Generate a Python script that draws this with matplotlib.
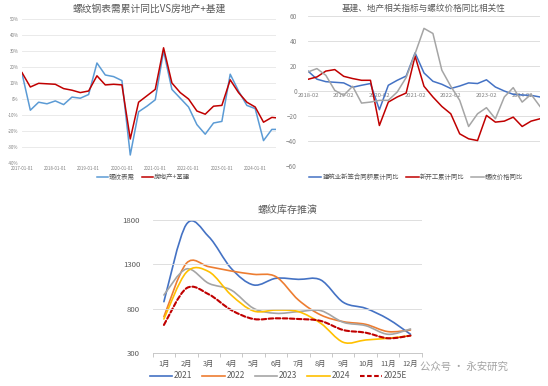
import matplotlib
matplotlib.use('Agg')
import matplotlib.pyplot as plt
from matplotlib.path import Path
from matplotlib.patches import PathPatch
from matplotlib.lines import Line2D
import numpy as np

plt.rcParams['font.family'] = ['Noto Sans CJK SC', 'DejaVu Sans']

# ---------------- Chart 1 data (quarterly) ----------------
c1_title = '螺纹钢表需累计同比VS房地产+基建'
c1_ticklabels = ['2017-01-01', '2018-01-01', '2019-01-01', '2020-01-01',
                 '2021-01-01', '2022-01-01', '2023-01-01', '2024-01-01']
c1_rebar = [16, -7, -2, -3, -1.2, -3.5, 1.2, 0.5, 2.8, 22.5, 15, 14, 11.5, -35,
            -8, -4.5, -0.5, 30, 6, 0.5, -5, -16, -22, -15, -14, 15.5, 5, -4,
            -6, -26, -19, -19]
c1_prop = [16.5, 7.5, 9.8, 9.5, 9.2, 6.5, 5.5, 4, 5, 14.5, 8.8, 9.2, 8.8, -25,
           -2, 2, 6, 32, 10, 4, 0, -7.5, -9.5, -4.5, -4, 12, 4, -2,
           -5, -14.5, -11.5, -12]
c1_names = ['螺纹表需', '房地产+基建']

# ---------------- Chart 2 data (quarterly from 2018-02) ----------------
c2_title = '基建、地产相关指标与螺纹价格同比相关性'
c2_ticklabels = ['2018-02', '2019-02', '2020-02', '2021-02', '2022-02', '2023-02', '2024-02']
c2_contract = [16, 9.5, 7.5, 7, 6.5, 3, 4.6, 6, -15, 4.6, 8.6, 12, 30.6, 14.5,
               7.8, 5.4, 2, 4, 6.5, 6, 9, 3.2, 0, -2.7, -3.2, -3.5, -4.8]
c2_newstart = [9.4, 11.3, 16, 17.2, 11.8, 10, 8.6, 8.6, -27.7, -8.9, -4.8, -1.6,
               28, 3.8, -4.8, -12.4, -18.3, -34.4, -38.4, -39.8, -19.6, -25,
               -24.2, -21, -28.5, -24.2, -22.3]
c2_price = [15.3, 18, 12.6, 0.5, -3.5, 3.8, -9.7, -8.9, -7.5, -7.5, -0.8, 10.8,
            30, 50.3, 46.2, 16.7, 3.8, -7.5, -28.5, -18.3, -13.4, -22.3, -4.8,
            2.7, -8.9, -2.7, -12.4]
c2_names = ['建筑业新签合同额累计同比', '新开工累计同比', '螺纹价格同比']

# ---------------- Chart 3 data ----------------
c3_title = '螺纹库存推演'
c3_months = ['1月', '2月', '3月', '4月', '5月', '6月', '7月', '8月', '9月', '10月', '11月', '12月']
inv_2021 = [881, 1750, 1612, 1256, 1069, 1144, 1132, 1125, 874, 806, 686, 514]
inv_2022 = [712, 1312, 1275, 1226, 1189, 1162, 900, 731, 656, 626, 544, 562]
inv_2023 = [956, 1249, 1087, 1012, 806, 750, 769, 780, 649, 611, 514, 574]
inv_2024 = [686, 1211, 1219, 956, 776, 787, 769, 637, 424, 450, 469, 499]
inv_2025E = [619, 1031, 964, 787, 686, 694, 686, 664, 562, 532, 469, 499]
c3_names = ['2021', '2022', '2023', '2024', '2025E']

W, H = 548, 386
fig = plt.figure(figsize=(W / 100, H / 100), dpi=100)
fig.patch.set_facecolor('white')

def ax_px(l, t, r, b):
    return fig.add_axes([l / W, 1 - b / H, (r - l) / W, (b - t) / H])

TXT = '#595959'
GRID = '#D9D9D9'

# ---------- Chart 1 ----------
ax1 = ax_px(22, 19, 276, 163)
x1 = np.arange(len(c1_rebar))
ax1.plot(x1, c1_rebar, color='#5B9BD5', lw=1.1, label=c1_names[0])
ax1.plot(x1, c1_prop, color='#C00000', lw=1.1, label=c1_names[1])
ax1.set_xlim(0, 30.5)
ax1.set_ylim(-40, 50)
ax1.set_yticks(np.arange(-40, 51, 10))
ax1.set_yticklabels([f'{v}%' for v in range(-40, 51, 10)])
ax1.set_xticks(np.arange(0, 29, 4))
ax1.set_xticklabels(c1_ticklabels)
ax1.tick_params(axis='both', length=0, labelsize=3.2, labelcolor='#808080', pad=2.5)
ax1.grid(axis='y', color='#E6E6E6', lw=0.6)
for s in ax1.spines.values():
    s.set_visible(False)
ax1.set_title(c1_title, fontsize=7.0, color=TXT, pad=5)
ax1.legend(loc='center', bbox_to_anchor=(143.5 / W, 1 - 177 / H), bbox_transform=fig.transFigure,
           ncol=2, frameon=False, fontsize=4.7, handlelength=1.7, columnspacing=1.1,
           handletextpad=0.15, labelcolor=TXT)

# ---------- Chart 2 ----------
ax2 = ax_px(308, 16.3, 540, 165.7)
x2 = np.arange(len(c2_contract))
ax2.plot(x2, c2_contract, color='#4472C4', lw=1.1, label=c2_names[0])
ax2.plot(x2, c2_newstart, color='#C00000', lw=1.1, label=c2_names[1])
ax2.plot(x2, c2_price, color='#A5A5A5', lw=1.1, label=c2_names[2])
ax2.set_xlim(0, 26)
ax2.set_ylim(-60, 60)
ax2.set_yticks(np.arange(-60, 61, 20))
ax2.set_xticks(np.arange(0, 25, 4))
ax2.set_xticklabels(c2_ticklabels)
ax2.spines['bottom'].set_position(('data', 0))
for s in ax2.spines.values():
    s.set_visible(False)
ax2.tick_params(axis='x', length=0, labelsize=4.2, labelcolor='#808080', pad=1.5)
ax2.tick_params(axis='y', length=0, labelsize=4.6, labelcolor='#808080', pad=8)
ax2.grid(axis='y', color=GRID, lw=0.6)
ax2.set_title(c2_title, fontsize=6.2, color=TXT, pad=4)
ax2.legend(loc='center', bbox_to_anchor=(416 / W, 1 - 177 / H), bbox_transform=fig.transFigure,
           ncol=3, frameon=False, fontsize=4.6, handlelength=2.0, columnspacing=1.1,
           handletextpad=0.15, labelcolor=TXT)

# ---------- Chart 3 ----------
def smooth_path(xs, ys):
    xs = np.asarray(xs, float)
    ys = np.asarray(ys, float)
    n = len(xs)
    verts = [(xs[0], ys[0])]
    codes = [Path.MOVETO]
    for i in range(n - 1):
        p0 = i - 1 if i > 0 else i
        p3 = i + 2 if i + 2 < n else i + 1
        c1 = (xs[i] + (xs[i + 1] - xs[p0]) / 6, ys[i] + (ys[i + 1] - ys[p0]) / 6)
        c2 = (xs[i + 1] - (xs[p3] - xs[i]) / 6, ys[i + 1] - (ys[p3] - ys[i]) / 6)
        verts += [c1, c2, (xs[i + 1], ys[i + 1])]
        codes += [Path.CURVE4] * 3
    return Path(verts, codes)

ax3 = ax_px(152.7, 220, 421.7, 353.3)
x3 = np.arange(len(c3_months))
series3 = [inv_2021, inv_2022, inv_2023, inv_2024, inv_2025E]
colors3 = ['#4472C4', '#ED7D31', '#A5A5A5', '#FFC000', '#C00000']
styles3 = ['-', '-', '-', '-', (0, (2.2, 1.2))]
widths3 = [1.2, 1.2, 1.2, 1.2, 1.5]
handles = []
for ys, c, ls, lw, nm in zip(series3, colors3, styles3, widths3, c3_names):
    ax3.add_patch(PathPatch(smooth_path(x3, ys), fill=False, edgecolor=c, lw=lw,
                            linestyle=ls, capstyle='round', joinstyle='round'))
    handles.append(Line2D([], [], color=c, lw=lw, linestyle=ls, label=nm))
ax3.set_xlim(-0.5, 11.5)
ax3.set_ylim(300, 1800)
ax3.set_yticks([300, 800, 1300, 1800])
ax3.set_xticks(x3)
ax3.set_xticklabels(c3_months)
ax3.set_xticks(np.arange(-0.5, 12, 1), minor=True)
ax3.tick_params(axis='x', which='major', length=0, labelsize=5.3, labelcolor=TXT, pad=5)
ax3.tick_params(axis='x', which='minor', length=3, color='#BFBFBF', width=0.6)
ax3.tick_params(axis='y', length=0, labelsize=5.6, labelcolor=TXT, pad=9)
ax3.grid(axis='y', color=GRID, lw=0.6)
for k in ['top', 'left', 'right']:
    ax3.spines[k].set_visible(False)
ax3.spines['bottom'].set_color('#BFBFBF')
ax3.spines['bottom'].set_linewidth(0.6)
ax3.set_title(c3_title, fontsize=7.2, color=TXT, pad=5)
ax3.legend(handles=handles, loc='center', bbox_to_anchor=(278.5 / W, 1 - 376 / H),
           bbox_transform=fig.transFigure, ncol=5, frameon=False, fontsize=6.0,
           handlelength=2.7, columnspacing=1.2, handletextpad=0.2, labelcolor=TXT)

# watermark
fig.text(420 / W, 1 - 367 / H, '公众号 · 永安研究', fontsize=7.5, color='#9A9A9A',
         ha='left', va='center', alpha=0.9)

fig.savefig('out.png', dpi=100, facecolor='white')
